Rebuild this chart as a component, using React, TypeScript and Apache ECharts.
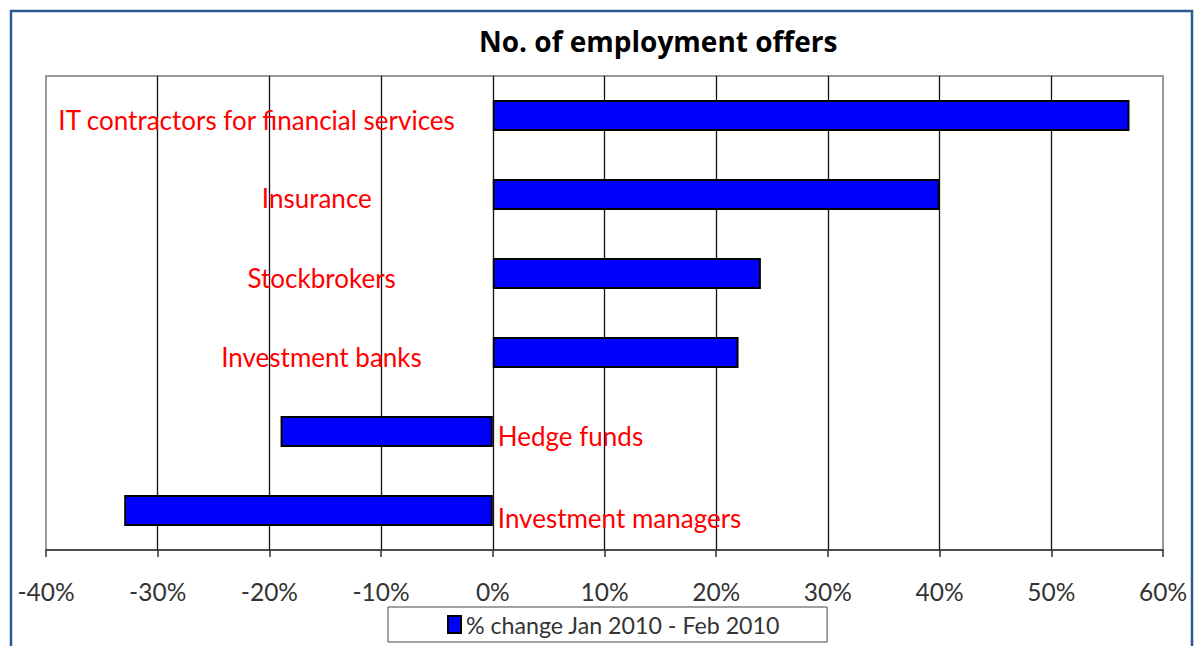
import React, { useEffect, useRef } from "react";
import * as echarts from "echarts";

const categories = [
  "IT contractors for financial services",
  "Insurance",
  "Stockbrokers",
  "Investment banks",
  "Hedge funds",
  "Investment managers",
];
const values = [57, 40, 24, 22, -19, -33];
const seriesName = "% change Jan 2010 - Feb 2010";
const chartTitle = "No. of employment offers";
const xTicks = { min: -40, max: 60, interval: 10 };

// label placement tweaks (style only)
const labelShift: [number, number][] = [
  [-33, 4],
  [-116, 3],
  [-92, 4],
  [-66, 4],
  [0, 4],
  [0, 7],
];

const FONT = "Lato, 'Open Sans', sans-serif";

export default function App() {
  const ref = useRef<HTMLDivElement>(null);
  useEffect(() => {
    document.body.style.margin = "0";
    const chart = echarts.init(ref.current!, null, { renderer: "svg" });
    chart.setOption({
      animation: false,
      backgroundColor: "#ffffff",
      textStyle: { fontFamily: FONT },
      title: {
        text: chartTitle,
        left: 474,
        top: 22,
        textStyle: { fontSize: 28, fontWeight: "bold", color: "#000", fontFamily: "'Open Sans', Lato, sans-serif" },
      },
      graphic: [
        {
          type: "rect",
          shape: { x: 11, y: 11, width: 1181, height: 660 },
          style: { fill: "none", stroke: "#2E5A94", lineWidth: 2.5 },
          z: 100,
          silent: true,
        },
      ],
      legend: {
        data: [seriesName],
        left: 388,
        top: 607,
        padding: [6, 47, 6, 59],
        itemWidth: 13,
        itemHeight: 17,
        itemGap: 6,
        icon: "rect",
        backgroundColor: "#fff",
        borderColor: "#444",
        borderWidth: 1,
        borderRadius: 0,
        textStyle: { fontSize: 23.2, color: "#333", fontFamily: FONT },
      },
      grid: {
        left: 46,
        top: 76,
        width: 1117,
        height: 474,
        show: true,
        borderColor: "#999",
        borderWidth: 2,
        backgroundColor: "transparent",
        containLabel: false,
      },
      xAxis: {
        type: "value",
        min: xTicks.min,
        max: xTicks.max,
        interval: xTicks.interval,
        axisLine: { show: true, onZero: false, lineStyle: { color: "#333", width: 1.5 } },
        axisTick: { show: true, length: 7, inside: false, lineStyle: { color: "#333", width: 1.5 } },
        axisLabel: {
          formatter: (v: number) => `${v}%`,
          fontSize: 24.5,
          color: "#333",
          margin: 29,
          fontFamily: FONT,
        },
        splitLine: {
          show: true,
          showMinLine: false,
          showMaxLine: false,
          lineStyle: { color: "#111", width: 1.3 },
        },
      },
      yAxis: {
        type: "category",
        data: categories,
        inverse: true,
        axisLine: { show: false },
        axisTick: { show: false },
        axisLabel: { show: false },
        splitLine: { show: false },
      },
      series: [
        {
          name: seriesName,
          type: "bar",
          barWidth: 31,
          itemStyle: { color: "#0000FF", borderColor: "#000", borderWidth: 2 },
          data: values.map((v, i) => ({
            value: v,
            label: {
              show: true,
              position: v >= 0 ? "left" : "right",
              offset: labelShift[i],
              formatter: categories[i],
              color: "#FF0000",
              fontSize: 26,
              fontFamily: FONT,
            },
          })),
        },
      ],
    });
    return () => chart.dispose();
  }, []);
  return <div ref={ref} style={{ position: "absolute", left: 0, top: 0, width: 1195, height: 646 }} />;
}
